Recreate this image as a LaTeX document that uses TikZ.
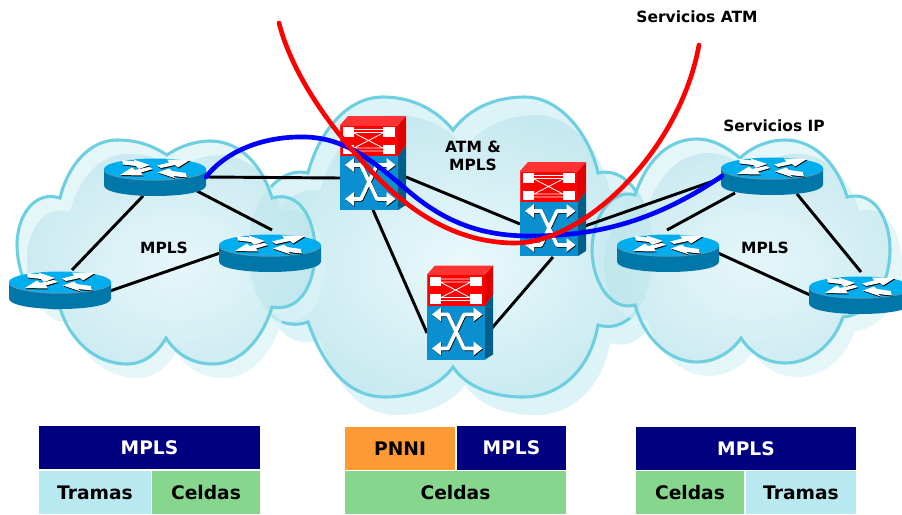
\documentclass[tikz,border=0pt]{standalone}
\usepackage{fontspec}
\setmainfont{DejaVu Sans}
\usetikzlibrary{calc}
\definecolor{cloudline}{HTML}{6DCFE0}
\definecolor{cloudbase}{HTML}{DCF3F7}
\definecolor{cloudin}{HTML}{EAF9FC}
\definecolor{cloudout}{HTML}{C6E9EF}
\definecolor{overlapc}{HTML}{9AD8E3}
\definecolor{navybox}{HTML}{000080}
\definecolor{lightbox}{HTML}{B9E9F0}
\definecolor{greenbox}{HTML}{86D68E}
\definecolor{orangebox}{HTML}{FF9933}
\definecolor{rtop}{HTML}{00AEEF}
\definecolor{rbody}{HTML}{0077A8}
\definecolor{rrim}{HTML}{4A9CC0}
\definecolor{sblue}{HTML}{0A8FD0}
\definecolor{sside}{HTML}{005F88}
\definecolor{redtop}{HTML}{FF3333}
\definecolor{redside}{HTML}{E00000}
\tikzset{
  routerbox/.style={rectangle,inner sep=0pt,minimum width=76.5pt,minimum height=28pt},
  switchbox/.style={rectangle,inner sep=0pt,minimum width=43.5pt,minimum height=64pt},
  link/.style={black,line width=2.2pt},
  tbl/.style={rectangle,inner sep=0pt,font=\bfseries\fontsize{14}{16}\selectfont},
  lbl/.style={font=\bfseries\fontsize{11.6}{14}\selectfont,align=center,black,inner sep=0pt},
  outline/.style={draw=cloudline,line width=2.3pt},
  path red/.style={red,line width=3.5pt,line cap=round},
  path blue/.style={blue,line width=3.5pt,line cap=round},
}
\def\cloudL{(167,155) .. controls (150,144) and (135,140) .. (117,140) .. controls (90,140) and (68,165) .. (60,198)
 .. controls (35,190) and (17,215) .. (17,245) .. controls (17,270) and (30,312) .. (60,308)
 .. controls (70,340) and (95,364) .. (127,364) .. controls (145,364) and (158,352) .. (166,338)
 .. controls (175,352) and (190,364) .. (213,364) .. controls (240,364) and (262,340) .. (272,307)
 .. controls (300,312) and (315,285) .. (315,250) .. controls (315,220) and (300,190) .. (272,198)
 .. controls (262,165) and (240,141) .. (210,141) .. controls (195,141) and (178,147) .. (167,155) -- cycle}
\def\cloudC{(453,130) .. controls (435,108) and (410,97) .. (383,97) .. controls (345,97) and (318,135) .. (308,173)
 .. controls (275,165) and (248,210) .. (248,250) .. controls (248,290) and (270,335) .. (308,322)
 .. controls (325,370) and (350,397) .. (385,397) .. controls (415,397) and (440,385) .. (453,367)
 .. controls (465,385) and (490,397) .. (523,397) .. controls (560,397) and (590,370) .. (598,325)
 .. controls (635,335) and (653,290) .. (653,250) .. controls (653,210) and (630,165) .. (598,173)
 .. controls (590,135) and (560,97) .. (525,97) .. controls (495,97) and (470,108) .. (453,130) -- cycle}
\def\cloudR{(740,158) .. controls (725,146) and (712,139) .. (697,139) .. controls (665,139) and (645,165) .. (635,195)
 .. controls (610,188) and (592,220) .. (592,250) .. controls (592,280) and (610,312) .. (635,305)
 .. controls (645,340) and (670,362) .. (697,362) .. controls (717,362) and (733,350) .. (741,338)
 .. controls (750,352) and (765,363) .. (785,363) .. controls (815,363) and (835,340) .. (843,317)
 .. controls (870,315) and (890,285) .. (890,250) .. controls (890,220) and (875,190) .. (847,197)
 .. controls (838,165) and (815,140) .. (785,140) .. controls (768,140) and (752,147) .. (740,158) -- cycle}
\newcommand\cloudshape[4]{%
  \fill[cloudbase,fill opacity=#4] #1;
  \begin{scope}[shift={(#2,#3)}]\fill[cloudbase,fill opacity=#4] #1;\end{scope}
  \begin{scope}
    \clip #1;
    \begin{scope}[shift={(#2,#3)}]
      \shade[inner color=cloudin,outer color=cloudout,shading=radial,fill opacity=#4] #1;
    \end{scope}
  \end{scope}
}
\newcommand\routerdraw[1]{%
  \begin{scope}[shift={(#1)},shift={(0,-8)}]
    \fill[rbody] (-51,0) -- (-51,16.5) .. controls (-51,30.5) and (51,30.5) .. (51,16.5) -- (51,0) -- cycle;
    \fill[rrim] (0,1.2) ellipse[x radius=51,y radius=10.5];
    \fill[rtop] (0,0) ellipse[x radius=51,y radius=10.5];
    \foreach \dx/\dy/\col in {0.5/1/black,0/0/white}{
      \begin{scope}[shift={(\dx,\dy)}]
      \fill[\col] (-33,-9) -- (-20,-7.5) -- (-23,-10) -- (-5,-4) -- (-16,0) -- (-19,-3) -- (-32,-4.5) -- cycle;
      \fill[\col] (2,-3.5) -- (14,-6.5) -- (12,-9.5) -- (35,-9) -- (23,-1.5) -- (20,-4) -- (6,-1) -- cycle;
      \fill[\col] (-2,0) -- (-14,3.5) -- (-12,6.5) -- (-35,6) -- (-23,-1.5) -- (-20,1) -- (-6,-2) -- cycle;
      \fill[\col] (32,8.5) -- (18,7) -- (21,9.5) -- (3,3.5) -- (14,-0.5) -- (17,2) -- (31,4) -- cycle;
      \end{scope}
    }
  \end{scope}
}
\newcommand\switchdraw[1]{%
  \begin{scope}[shift={(#1)},shift={(-29,-42.5)}]
    \fill[sblue] (0,31) rectangle (58,85);
    \fill[sside] (58,31) -- (66,20) -- (66,80) -- (58,85) -- cycle;
    \fill[redside] (58,0) -- (66,-9) -- (66,20) -- (58,31) -- cycle;
    \fill[redtop] (0,0) -- (8,-9) -- (66,-9) -- (58,0) -- cycle;
    \fill[red] (0,0) rectangle (58,31);
    \draw[redtop,line width=.6pt] (0,31) -- (0,0) -- (58,0);
    \fill[white] (2.5,2) rectangle (14,11.5);
    \fill[white] (2.5,19.5) rectangle (14,29);
    \fill[white] (43,2) rectangle (55,11.5);
    \fill[white] (43,19.5) rectangle (55,29);
    \draw[white,line width=.6pt] (14,4.5) -- (43,4.5) (14,7.5) -- (43,7.5) (14,23) -- (43,23) (14,26) -- (43,26)
      (14,8) -- (43,23) (14,23) -- (43,8);
    \foreach \dx/\dy/\col in {0.6/0.8/black,0/0/white}{
      \begin{scope}[shift={(\dx,\dy)}]
      \draw[\col,line width=2.7pt,line join=round] (10,40) -- (21,40) -- (37,74) -- (50,74);
      \draw[\col,line width=2.7pt,line join=round] (10,74) -- (21,74) -- (37,40) -- (50,40);
      \fill[\col] (5,40) -- (14,33) -- (14,47) -- cycle;
      \fill[\col] (5,74) -- (14,67) -- (14,81) -- cycle;
      \fill[\col] (55.5,40) -- (46.5,33) -- (46.5,47) -- cycle;
      \fill[\col] (55.5,74) -- (46.5,67) -- (46.5,81) -- cycle;
      \end{scope}
    }
  \end{scope}
}
\begin{document}
\begin{tikzpicture}[x=0.75pt,y=-0.75pt]
\clip (0,0) rectangle (902,514);
\fill[white] (0,0) rectangle (902,514);

% clouds
\cloudshape{\cloudC}{12}{18}{1}
\draw[outline] \cloudC;
\cloudshape{\cloudL}{10}{14}{0.72}
\cloudshape{\cloudR}{12}{14}{0.72}
\begin{scope}\clip \cloudL; \fill[overlapc,fill opacity=.22] \cloudC;\end{scope}
\begin{scope}\clip \cloudR; \fill[overlapc,fill opacity=.22] \cloudC;\end{scope}
\draw[outline] \cloudL;
\draw[outline] \cloudR;

% device anchors
\node[routerbox] (r1) at (155,177) {};
\node[routerbox] (r2) at (270,253) {};
\node[routerbox] (r3) at (60,290) {};
\node[routerbox] (r4) at (772,176) {};
\node[routerbox] (r5) at (668,253) {};
\node[routerbox] (r6) at (860,295) {};
\node[switchbox] (s1) at (369,167.5) {};
\node[switchbox] (s2) at (549,213.5) {};
\node[switchbox] (s3) at (456,317) {};

% links
\draw[link] ($(r1)+(-12,19)$) -- ($(r3)+(12,-20)$);
\draw[link] ($(r1)+(42,14)$) -- ($(r2)+(2,-23)$);
\draw[link] ($(r3)+(50,1)$) -- ($(r2)+(-50,0)$);
\draw[link] ($(r1)+(51,0)$) -- ($(s1)+(-29,10.5)$);
\draw[link] ($(s1)+(37,9.5)$) -- ($(s2)+(-29,10.5)$);
\draw[link] ($(s1)+(4,42.5)$) -- ($(s3)+(-29,16)$);
\draw[link] ($(s2)+(4,43.5)$) -- ($(s3)+(36,11)$);
\draw[link] ($(s2)+(36,12.5)$) -- ($(r4)+(-50,2)$);
\draw[link] ($(r5)+(-1,-23)$) -- ($(r4)+(-37,17)$);
\draw[link] ($(r4)+(25,18)$) -- ($(r6)+(1,-23)$);
\draw[link] ($(r5)+(50,0)$) -- ($(r6)+(-50,0)$);

% devices
\routerdraw{r1}\routerdraw{r2}\routerdraw{r3}\routerdraw{r4}\routerdraw{r5}\routerdraw{r6}
\switchdraw{s1}\switchdraw{s2}\switchdraw{s3}

% service paths
\coordinate (b0) at ($(r1)+(51,0)$);
\coordinate (b1) at ($(r4)+(-50,0)$);
\coordinate (c0) at (279,23);
\coordinate (c1) at (699,45);
\draw[path blue] (b0) .. controls (225,152) and (262,136) .. (305,137)
  .. controls (345,138) and (372,160) .. (407,190)
  .. controls (440,218) and (475,236) .. (530,236)
  .. controls (590,236) and (650,225) .. (b1);
\draw[path red] (c0) .. controls (295,85) and (345,145) .. (380,180)
  .. controls (420,220) and (465,243) .. (515,243)
  .. controls (585,243) and (680,150) .. (c1);

% labels
\node[lbl] (l1) at (164,248) {MPLS};
\node[lbl] (l2) at (765,248) {MPLS};
\node[lbl] (l3) at (473,156) {ATM \&\\MPLS};
\node[lbl] (l4) at (774,126) {Servicios IP};
\node[lbl] (l5) at (697,17) {Servicios ATM};

% stacks
\node[tbl,fill=navybox,text=white,minimum width=165.75pt,minimum height=32.25pt] (t1) at (149.5,447.5) {MPLS};
\node[tbl,fill=lightbox,minimum width=84pt,minimum height=32.25pt] (t2) at (95,492.5) {Tramas};
\node[tbl,fill=greenbox,minimum width=81pt,minimum height=32.25pt] (t3) at (206,492.5) {Celdas};
\node[tbl,fill=orangebox,minimum width=82.5pt,minimum height=32.25pt] (t4) at (400,448.5) {PNNI};
\node[tbl,fill=navybox,text=white,minimum width=81.75pt,minimum height=33pt] (t5) at (511.5,448) {MPLS};
\node[tbl,fill=greenbox,minimum width=165.75pt,minimum height=32.25pt] (t6) at (455.5,492.5) {Celdas};
\node[tbl,fill=navybox,text=white,minimum width=165pt,minimum height=32.25pt] (t7) at (746,448.5) {MPLS};
\node[tbl,fill=greenbox,minimum width=81pt,minimum height=32.25pt] (t8) at (690,492.5) {Celdas};
\node[tbl,fill=lightbox,minimum width=82.5pt,minimum height=32.25pt] (t9) at (801,492.5) {Tramas};
\end{tikzpicture}
\end{document}
